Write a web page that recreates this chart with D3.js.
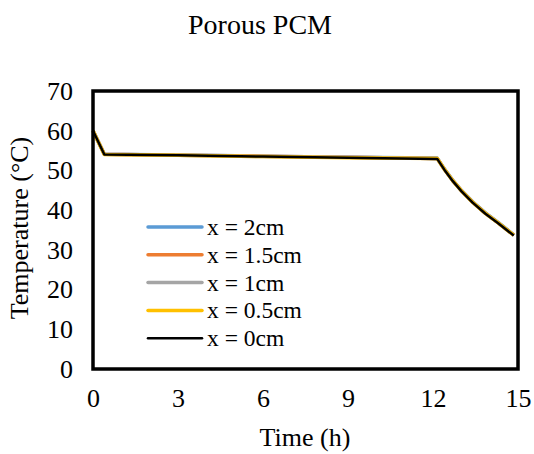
<!DOCTYPE html>
<html>
<head>
<meta charset="utf-8">
<script src="https://cdn.jsdelivr.net/npm/d3@7"></script>
<style>
  body { margin: 0; background: #fff; }
  text { font-family: "Liberation Serif", "Times New Roman", serif; fill: #000; }
</style>
</head>
<body>
<script>
// data
var times = [0, 0.4, 3, 6, 9, 12.15, 12.4, 12.7, 13.0, 13.4, 13.85, 14.3, 14.85];
var temp2cm   = [60, 54.1, 53.9, 53.6, 53.3, 53.1, 50.4, 47.5, 45.0, 42.1, 39.3, 36.9, 33.8];
var temp15cm  = [60, 54.1, 53.8, 53.6, 53.3, 53.0, 50.3, 47.4, 44.9, 42.0, 39.2, 36.8, 33.7];
var temp1cm   = [60, 54.1, 53.8, 53.5, 53.3, 53.0, 50.3, 47.4, 44.9, 42.0, 39.2, 36.8, 33.7];
var temp05cm  = [60, 54.0, 53.8, 53.5, 53.2, 53.0, 50.3, 47.4, 44.9, 42.0, 39.2, 36.8, 33.7];
var temp0cm   = [60, 54.0, 53.8, 53.5, 53.2, 52.9, 50.2, 47.3, 44.8, 41.9, 39.1, 36.7, 33.6];
var seriesNames = ["x = 2cm", "x = 1.5cm", "x = 1cm", "x = 0.5cm", "x = 0cm"];
var seriesColors = ["#5b9bd5", "#ed7d31", "#a5a5a5", "#ffc000", "#000000"];
var xTicks = [0, 3, 6, 9, 12, 15];
var yTicks = [0, 10, 20, 30, 40, 50, 60, 70];

var allSeries = [temp2cm, temp15cm, temp1cm, temp05cm, temp0cm];

window.onload = function(){
    var w = 534, h = 454;
    //plot box (top is a reserved window name, so pTop etc.)
    var pLeft = 93, pRight = 518, pTop = 91, pBottom = 369;

    var svg = d3.select("body").append("svg")
        .attr("width", w)
        .attr("height", h);

    var x = d3.scaleLinear().domain([0, 15]).range([pLeft, pRight]);
    var y = d3.scaleLinear().domain([0, 70]).range([pBottom, pTop]);

    //title
    svg.append("text")
        .attr("x", 260).attr("y", 34)
        .attr("text-anchor", "middle")
        .style("font-size", "28px")
        .text("Porous PCM");

    //axes, labels only
    var xAxis = svg.append("g")
        .attr("transform", "translate(0," + pBottom + ")")
        .call(d3.axisBottom(x).tickValues(xTicks).tickSize(0).tickPadding(20).tickFormat(d3.format("d")));
    var yAxis = svg.append("g")
        .attr("transform", "translate(" + pLeft + ",0)")
        .call(d3.axisLeft(y).tickValues(yTicks).tickSize(0).tickPadding(20).tickFormat(d3.format("d")));
    [xAxis, yAxis].forEach(function(g){
        g.select(".domain").remove();
        g.attr("font-family", null).attr("font-size", null);
        g.selectAll("text").style("font-size", "26px");
    });

    //lines
    var line = d3.line()
        .x(function(d, i){ return x(times[i]); })
        .y(function(d){ return y(d); });

    svg.selectAll(".series")
        .data(allSeries)
        .enter()
        .append("path")
        .attr("class", "series")
        .attr("d", line)
        .attr("fill", "none")
        .attr("stroke", function(d, i){ return seriesColors[i]; })
        .attr("stroke-width", function(d, i){ return i == 4 ? 2.5 : 3.5; })
        .attr("stroke-linejoin", "round");

    //plot frame
    svg.append("rect")
        .attr("x", pLeft).attr("y", pTop)
        .attr("width", pRight - pLeft).attr("height", pBottom - pTop)
        .attr("fill", "none")
        .attr("stroke", "#000")
        .attr("stroke-width", 3.5);

    //axis titles
    svg.append("text")
        .attr("x", 305).attr("y", 446)
        .attr("text-anchor", "middle")
        .style("font-size", "26px")
        .text("Time (h)");
    svg.append("text")
        .attr("transform", "translate(28,228) rotate(-90)")
        .attr("text-anchor", "middle")
        .style("font-size", "26px")
        .text("Temperature (°C)");

    //legend
    var legend = svg.selectAll(".legend")
        .data(seriesNames)
        .enter()
        .append("g")
        .attr("class", "legend")
        .attr("transform", function(d, i){ return "translate(148," + (227 + i * 27.8) + ")"; });
    legend.append("line")
        .attr("x1", 0).attr("x2", 54)
        .attr("stroke", function(d, i){ return seriesColors[i]; })
        .attr("stroke-width", function(d, i){ return i == 4 ? 2.5 : 3.5; })
        .attr("stroke-linecap", "round");
    legend.append("text")
        .attr("x", 59).attr("y", 8)
        .style("font-size", "23.5px")
        .text(function(d){ return d; });
};
</script>
</body>
</html>
